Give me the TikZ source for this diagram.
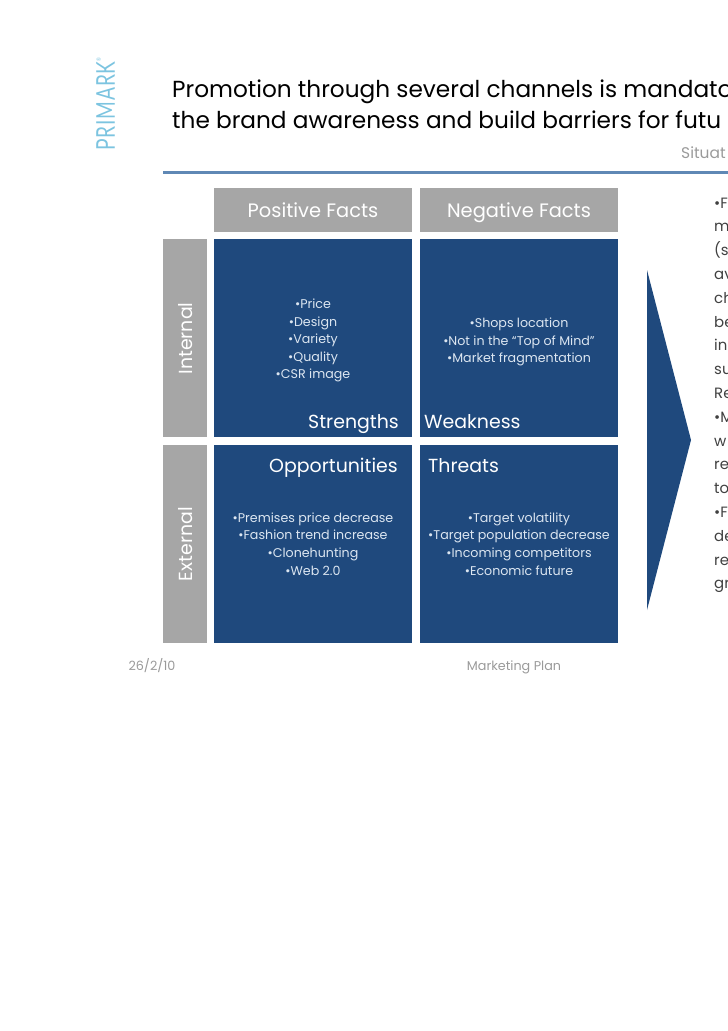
\documentclass[tikz,border=0pt]{standalone}
\usepackage{fontspec}
\setmainfont{Poppins}
\newfontfamily\logofont[LetterSpace=4]{Lato}
\definecolor{cellblue}{HTML}{1F497D}
\definecolor{headgray}{HTML}{A6A6A6}
\definecolor{rulecolor}{HTML}{5F88B5}
\definecolor{logoblue}{HTML}{7CC4E0}
\definecolor{footgray}{HTML}{9A9A9A}
\definecolor{celltext}{HTML}{DCE6F1}
\tikzset{
  headbox/.style={fill=headgray, text=white, minimum width=198, minimum height=44, inner sep=0, text height=20, text depth=4, font=\fontsize{19.5}{22}\selectfont},
  sidebox/.style={fill=headgray, text=white, minimum width=44, minimum height=198, inner sep=0},
  cellbox/.style={fill=cellblue, minimum width=198, minimum height=198, inner sep=0},
  celllist/.style={text=celltext, align=center, inner sep=0, font=\fontsize{12.7}{17.6}\selectfont},
  celltitle/.style={text=white, inner sep=0, font=\fontsize{19}{22}\selectfont},
  sidetext/.style={text=white, inner sep=0, rotate=90, font=\fontsize{19}{22}\selectfont},
  titletext/.style={anchor=base west, inner sep=0, font=\fontsize{23.3}{28}\selectfont},
  foot/.style={text=footgray, inner sep=0, anchor=base, font=\fontsize{12.8}{15}\selectfont},
  sidecopy/.style={anchor=base west, inner sep=0, text=black!75, font=\fontsize{15}{18}\selectfont},
}
\begin{document}
\begin{tikzpicture}[x=1bp, y=-1bp]
        \useasboundingbox (0,0) rectangle (728,1031);
        \clip (0,0) rectangle (728,1031);

        % logo
        \node[text=logoblue, rotate=90, inner sep=0, font=\fontsize{26}{28}\logofont] (logo) at (105.5,104) {\scalebox{0.74}[1]{PRIMARK\raisebox{14pt}{\fontsize{6}{6}\selectfont ®}}};

        % title
        \node[titletext] (title1) at (172,97) {Promotion through several channels is mandato};
        \node[titletext] (title2) at (172,128.5) {the brand awareness and build barriers for futu};
        \node[foot, anchor=base west, font=\fontsize{15.5}{17}\selectfont] (section) at (681,158) {Situat};
        \coordinate (rule_lt) at (163,172.5);
        \coordinate (rule_rt) at (728,172.5);
        \draw[rulecolor, line width=2.4] (rule_lt) -- (rule_rt);

        % column heads
        \node[headbox] (positive) at (313,210) {Positive Facts};
        \node[headbox] (negative) at (519,210) {Negative Facts};

        % row heads
        \node[sidebox] (internal) at (185,338) {};
        \node[sidebox] (external) at (185,544) {};
        \node[sidetext] at (186,338.5) {Internal};
        \node[sidetext] at (186,544) {External};

        % four cells
        \node[cellbox] (strengths) at (313,338) {};
        \node[cellbox] (weakness) at (519,338) {};
        \node[cellbox] (opportunities) at (313,544) {};
        \node[cellbox] (threats) at (519,544) {};

        \node[celltitle, anchor=base east] at (399,428) {Strengths};
        \node[celltitle, anchor=base west] at (424,428) {Weakness};
        \node[celltitle, anchor=base east] at (398,472) {Opportunities};
        \node[celltitle, anchor=base west] at (428,472) {Threats};

        % cell lists
        \node[celllist] at (313,340.5) {•Price\\•Design\\•Variety\\•Quality\\•CSR image};
        \node[celllist] at (519,342) {•Shops location\\•Not in the “Top of Mind”\\•Market fragmentation};
        \node[celllist] at (313,544) {•Premises price decrease\\•Fashion trend increase\\•Clonehunting\\•Web 2.0};
        \node[celllist] at (519,544) {•Target volatility\\•Target population decrease\\•Incoming competitors\\•Economic future};

        % arrow
        \fill[cellblue] (647,270) -- (691,440) -- (647,610) -- cycle;

        % right column
        \foreach \txt [count=\i from 0] in {•F,m,{(s},av,ch,be,in,su,Re,•M,w,re,to,•F,de,re,gr}
          \node[sidecopy] at ({714},{208+\i*23.8}) {\txt};

        % footer
        \node[foot] (date) at (152,670) {26/2/10};
        \node[foot] (plan) at (514,670) {Marketing Plan};
    \end{tikzpicture}
\end{document}
